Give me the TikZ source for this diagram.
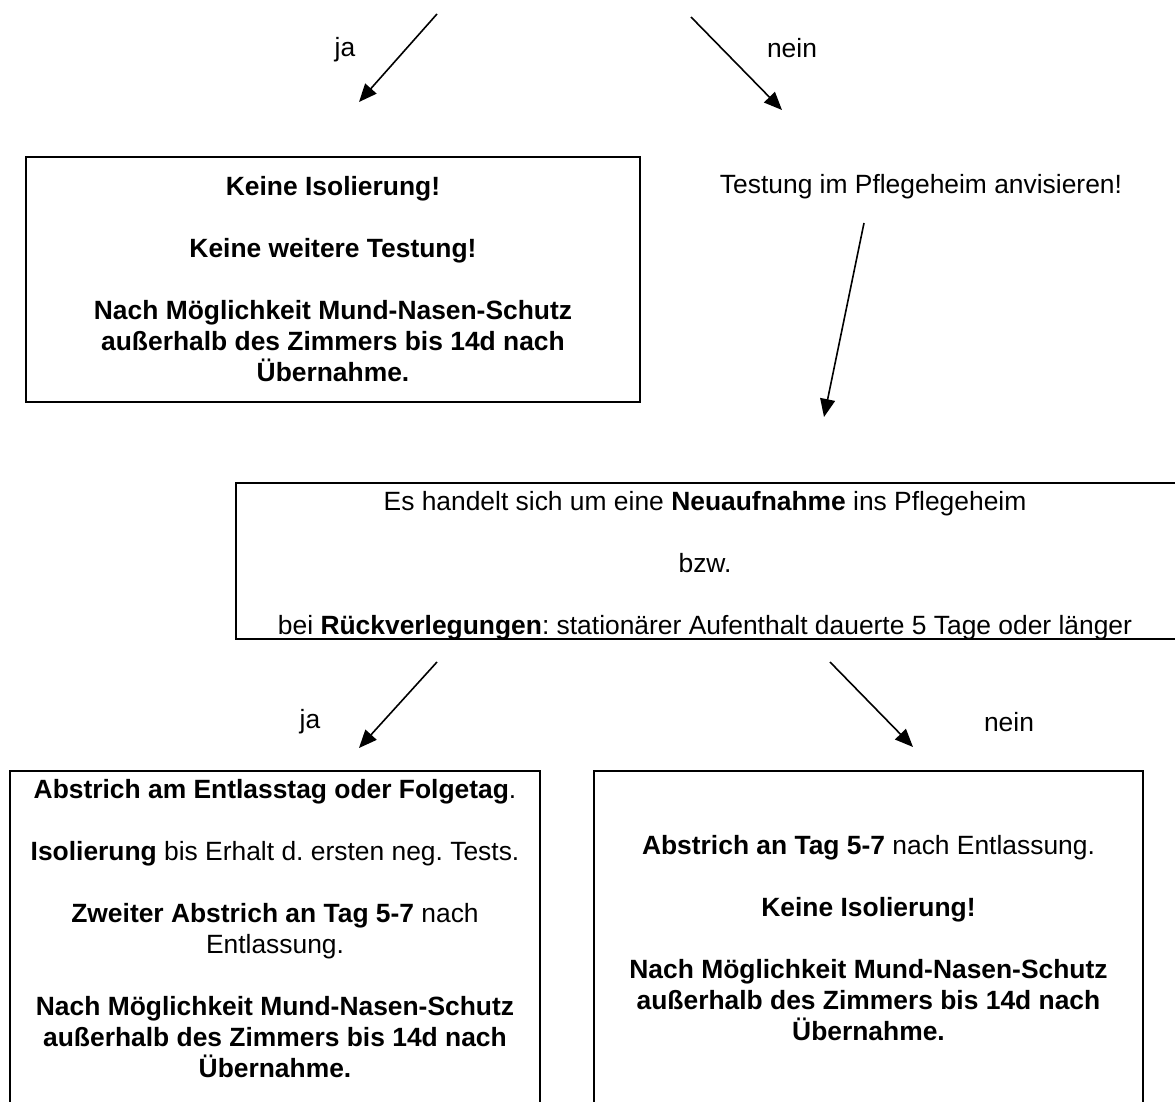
\documentclass[tikz,border=0pt]{standalone}
\usepackage{fontspec}
\setmainfont{Liberation Sans}
\usetikzlibrary{arrows.meta}
\begin{document}
\frenchspacing
\begin{tikzpicture}[x=0.5pt,y=-0.5pt,
  every node/.style={font=\fontsize{13.2}{15.5}\selectfont\frenchspacing},
  boxline/.style={draw=black,line width=0.9pt,inner sep=0pt},
  flow/.style={line width=0.8pt,-{Triangle[length=9pt,width=7.5pt]}},
  txt/.style={align=center,inner sep=0pt},
  lbl/.style={inner sep=0pt}]
\useasboundingbox (0,0) rectangle (1175,1102);
\clip (0,0) rectangle (1175,1102);

% top arrows
\coordinate (s1) at (437,14);
\coordinate (e1) at (359,102);
\coordinate (s2) at (691,17);
\coordinate (e2) at (782,110);
\draw[flow] (s1) -- (e1);
\draw[flow] (s2) -- (e2);
\node[lbl] (ja1) at (345,50) {ja};
\node[lbl] (nein1) at (792,48) {nein};

% box 1
\node[boxline,minimum width=307pt,minimum height=122.5pt,txt] (box1) at (333,279.5)
  {\bfseries Keine Isolierung!\\[15.5pt]
   \bfseries Keine weitere Testung!\\[15.5pt]
   \bfseries Nach Möglichkeit Mund-Nasen-Schutz\\
   \bfseries außerhalb des Zimmers bis 14d nach\\
   \bfseries Übernahme.};

% testung
\node[lbl] (test) at (921,187) {Testung im Pflegeheim anvisieren!};
\coordinate (s3) at (864,223);
\coordinate (e3) at (824,417);
\draw[flow] (s3) -- (e3);

% middle box
\node[boxline,minimum width=480pt,minimum height=78pt] (box2) at (716,561) {};
\node[txt] (box2text) at (705,566)
  {Es handelt sich um eine \textbf{Neuaufnahme} ins Pflegeheim\\[15.5pt]
   bzw.\\[15.5pt]
   bei \textbf{Rückverlegungen}: stationärer Aufenthalt dauerte 5 Tage oder länger};

% lower arrows
\coordinate (s4) at (437,662);
\coordinate (e4) at (359,748);
\coordinate (s5) at (830,662);
\coordinate (e5) at (913,747);
\draw[flow] (s4) -- (e4);
\draw[flow] (s5) -- (e5);
\node[lbl] (ja2) at (310,722) {ja};
\node[lbl] (nein2) at (1009,722) {nein};

% bottom left box
\node[boxline,minimum width=265pt,minimum height=180pt] (box3) at (275,951) {};
\node[txt] (box3text) at (275,929)
  {\textbf{Abstrich am Entlasstag oder Folgetag}.\\[15.5pt]
   \textbf{Isolierung} bis Erhalt d. ersten neg. Tests.\\[15.5pt]
   \textbf{Zweiter Abstrich an Tag 5-7} nach\\
   Entlassung.\\[15.5pt]
   \textbf{Nach Möglichkeit Mund-Nasen-Schutz}\\
   \textbf{außerhalb des Zimmers bis 14d nach}\\
   \textbf{Übernahme.}};

% bottom right box
\node[boxline,minimum width=274.5pt,minimum height=180pt] (box4) at (868.5,951) {};
\node[txt] (box4text) at (868.5,938)
  {\textbf{Abstrich an Tag 5-7} nach Entlassung.\\[15.5pt]
   \textbf{Keine Isolierung!}\\[15.5pt]
   \textbf{Nach Möglichkeit Mund-Nasen-Schutz}\\
   \textbf{außerhalb des Zimmers bis 14d nach}\\
   \textbf{Übernahme.}};
\end{tikzpicture}
\end{document}
